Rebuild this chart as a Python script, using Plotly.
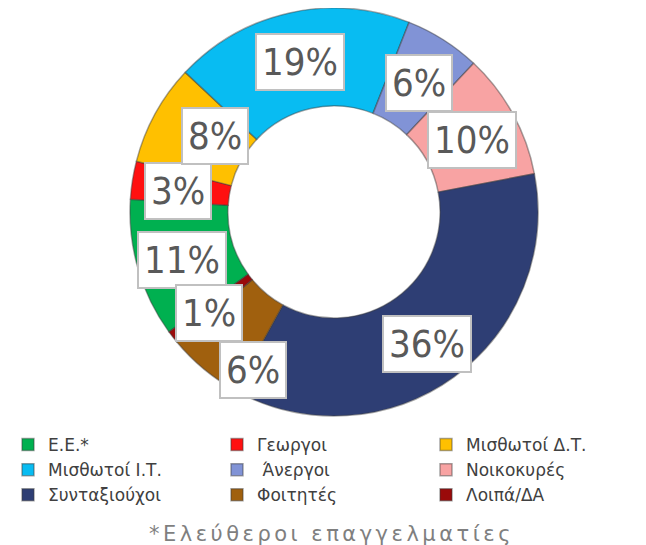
import math
import plotly.graph_objects as go


# ------------------------------------------
# data: occupation shares (%), clockwise
# ------------------------------------------
categories = ["Ε.Ε.*", "Γεωργοι", "Μισθωτοί Δ.Τ.",
              "Μισθωτοί Ι.Τ.", " Άνεργοι", "Νοικοκυρές",
              "Συνταξιούχοι", "Φοιτητές", "Λοιπά/ΔΑ"]
shares = [11, 3, 8, 19, 6, 10, 36, 6, 1]
slice_colors = ["#00b050", "#ff1010", "#ffc000",
                "#08bcf2", "#8193d6", "#f8a3a3",
                "#2e3e74", "#a0600e", "#9a0a0a"]
footnote = "*Ελεύθεροι επαγγελματίες"

W, H = 646, 545
ROTATION = 234
# pie placement (px): centre and outer radius
CX, CY, R = 326, 204, 204
LABEL_R = 158
# excel pushed a couple of labels aside to avoid overlap
nudge = {"Φοιτητές": (-12, 16), "Μισθωτοί Δ.Τ.": (5, -15)}

dom_x = [max(0, (CX - R) / W), min(1, (CX + R) / W)]
dom_y = [max(0, (H - CY - R) / H), min(1, (H - CY + R) / H)]

fig = go.Figure(go.Pie(
    labels=categories,
    values=shares,
    hole=0.52,
    sort=False,
    direction="clockwise",
    rotation=ROTATION,
    textinfo="none",
    marker=dict(colors=slice_colors,
                line=dict(color="rgba(60,60,60,0.45)", width=1.5)),
    domain=dict(x=dom_x, y=dom_y),
))

# percentage boxes, placed at each slice's middle angle
total = sum(shares)
cum = 0
for name, v in zip(categories, shares):
    da, dr = nudge.get(name, (0, 0))
    ang = math.radians(ROTATION + 360 * (cum + v / 2) / total + da)
    cum += v
    r = LABEL_R + dr
    fig.add_annotation(
        x=(CX + r * math.sin(ang)) / W,
        y=(H - CY + r * math.cos(ang) - 4) / H,
        xref="paper", yref="paper",
        xanchor="center", yanchor="middle",
        text=f"{round(100 * v / total)}%",
        showarrow=False,
        font=dict(family="Liberation Sans Narrow, DejaVu Sans Condensed, Roboto, sans-serif",
                  size=38, color="#595959"),
        bgcolor="white",
        bordercolor="#c0c0c0",
        borderwidth=2,
        borderpad=5,
    )

fig.add_annotation(
    x=0.5, y=(H - 526) / H, xref="paper", yref="paper",
    xanchor="center", yanchor="middle",
    text=f'<span style="letter-spacing:3.5px">{footnote}</span>',
    showarrow=False,
    font=dict(family="DejaVu Sans", size=21, color="#7f7f7f"),
)

# thin light strip along the bottom edge
fig.add_shape(type="rect", xref="paper", yref="paper",
              x0=0, x1=1, y0=0, y1=0.012,
              line=dict(width=0), fillcolor="#e9f0f0")

fig.update_layout(
    width=W, height=H,
    margin=dict(l=0, r=0, t=0, b=0),
    paper_bgcolor="white",
    plot_bgcolor="white",
    legend=dict(
        orientation="h",
        x=0, y=(H - 419) / H,
        xanchor="left", yanchor="top",
        entrywidth=164,
        bgcolor="rgba(0,0,0,0)",
        font=dict(family="DejaVu Sans", size=17, color="#404040"),
        tracegroupgap=0,
    ),
)

fig.write_html("out.html")
